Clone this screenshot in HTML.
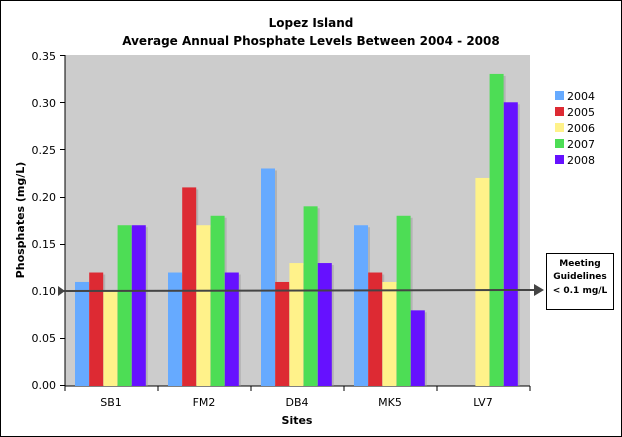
<!DOCTYPE html>
<html><head><style>
body{margin:0;background:#fff;}
svg{display:block;font-family:"DejaVu Sans","Liberation Sans",sans-serif;}
</style></head><body>
<svg width="622" height="437" viewBox="0 0 622 437">
<rect x="0.5" y="0.5" width="621" height="436" fill="#fff" stroke="#000"/>
<text x="311" y="27" text-anchor="middle" font-size="12" font-weight="bold">Lopez Island</text>
<text x="311" y="45" text-anchor="middle" font-size="12" font-weight="bold">Average Annual Phosphate Levels Between 2004 - 2008</text>
<rect x="65" y="55" width="465" height="331" fill="#cccccc"/>
<g font-size="11" text-anchor="end">
<text x="56" y="389">0.00</text>
<text x="56" y="342">0.05</text>
<text x="56" y="295">0.10</text>
<text x="56" y="248">0.15</text>
<text x="56" y="201">0.20</text>
<text x="56" y="154">0.25</text>
<text x="56" y="107">0.30</text>
<text x="56" y="60">0.35</text>
</g>
<g stroke="#000">
<line x1="65" y1="55" x2="65" y2="386"/>
<line x1="65" y1="386" x2="530" y2="386"/>
<line x1="60" y1="55.5" x2="65" y2="55.5"/><line x1="60" y1="102.5" x2="65" y2="102.5"/>
<line x1="60" y1="149.5" x2="65" y2="149.5"/><line x1="60" y1="197.5" x2="65" y2="197.5"/>
<line x1="60" y1="244.5" x2="65" y2="244.5"/><line x1="60" y1="291.5" x2="65" y2="291.5"/>
<line x1="60" y1="338.5" x2="65" y2="338.5"/><line x1="60" y1="385.5" x2="65" y2="385.5"/>
<line x1="65" y1="386" x2="65" y2="391"/><line x1="158" y1="386" x2="158" y2="391"/>
<line x1="251" y1="386" x2="251" y2="391"/><line x1="344" y1="386" x2="344" y2="391"/>
<line x1="437" y1="386" x2="437" y2="391"/><line x1="530" y1="386" x2="530" y2="391"/>
</g>
<g id="bars"></g>
<g font-size="11" text-anchor="middle">
<text x="111" y="406">SB1</text><text x="204" y="406">FM2</text><text x="297" y="406">DB4</text>
<text x="390" y="406">MK5</text><text x="483" y="406">LV7</text>
</g>
<text x="297" y="424" text-anchor="middle" font-size="11" font-weight="bold">Sites</text>
<text transform="translate(24,220) rotate(-90)" text-anchor="middle" font-size="11" font-weight="bold">Phosphates (mg/L)</text>
<line x1="62" y1="291" x2="536" y2="290" stroke="#444" stroke-width="2"/>
<polygon points="58,286 65,291 58,296" fill="#444"/>
<polygon points="534,284 544,290 534,296" fill="#444"/>
<rect x="546.5" y="253.5" width="67" height="56" fill="#fff" stroke="#000"/>
<g font-size="9" font-weight="bold" text-anchor="middle">
<text x="580" y="266">Meeting</text><text x="580" y="279">Guidelines</text><text x="580" y="293">&lt; 0.1 mg/L</text>
</g>
<g font-size="11">
<rect x="555" y="91" width="9" height="9" fill="#66aaff"/><text x="567" y="100">2004</text>
<rect x="555" y="107" width="9" height="9" fill="#dd2a33"/><text x="567" y="116">2005</text>
<rect x="555" y="123" width="9" height="9" fill="#fff28a"/><text x="567" y="132">2006</text>
<rect x="555" y="139" width="9" height="9" fill="#4ddd55"/><text x="567" y="148">2007</text>
<rect x="555" y="155" width="9" height="9" fill="#6611ff"/><text x="567" y="164">2008</text>
</g>
</svg>
<script>
var d=[[.11,.12,.10,.17,.17],[.12,.21,.17,.18,.12],[.23,.11,.13,.19,.13],[.17,.12,.11,.18,.08],[0,0,.22,.33,.30]];
var c=["#66aaff","#dd2a33","#fff28a","#4ddd55","#6611ff"];
var g=document.getElementById("bars"),s="";
for(var i=0;i<5;i++)for(var j=0;j<5;j++){var v=d[i][j];if(!v)continue;var h=v*945.7;var x=65+i*93+10+j*14.2;
s+='<rect x="'+(x+2)+'" y="'+(386-h+2)+'" width="14" height="'+(h-2)+'" fill="#999" opacity="0.5"/>';
s+='<rect x="'+x+'" y="'+(386-h)+'" width="14" height="'+h+'" fill="'+c[j]+'"/>';}
g.innerHTML=s;
</script>
</body></html>
